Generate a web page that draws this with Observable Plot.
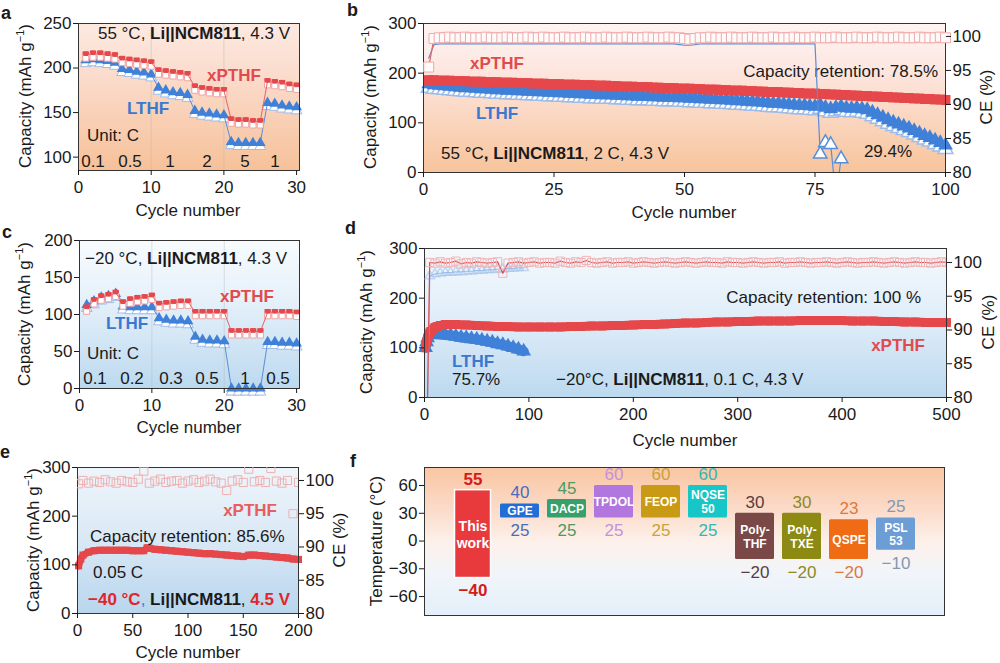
<!DOCTYPE html>
<html>
<head>
<meta charset="utf-8">
<script src="https://cdn.jsdelivr.net/npm/d3@7"></script>
<script src="https://cdn.jsdelivr.net/npm/@observablehq/plot@0.6"></script>
<style>
  body { margin: 0; background: #fff; }
  #fig { position: relative; width: 1000px; height: 663px; overflow: hidden; font-family: "Liberation Sans", Arial, Helvetica, sans-serif; color: #1a1a1a; }
  .panel { position: absolute; }
  .panel svg { position: absolute; left: 0; top: 0; overflow: visible; }
  .tag { position: absolute; font-weight: bold; font-size: 18px; line-height: 18px; }
</style>
</head>
<body>
<div id="fig"></div>
<script>
// ---------- data ----------
// a: rate capability, 55 °C
const cycA = d3.range(1, 31);
const capA_xPTHF = [215,216,216,215,214, 210,209,208,207,206, 197,196,195,194,193, 179,177,176,175,175, 142,141,141,140,140, 185,184,183,181,180];
const capA_LTHF  = [209,210,209,208,206, 199,198,196,195,193, 178,175,173,172,170, 152,150,149,148,147, 117,116,116,116,116, 161,160,158,157,156];
const ratesA = ["0.1", "0.5", "1", "2", "5", "1"];

// b: cycling at 55 °C, 2 C
const cycB = d3.range(1, 101);
const capB_xPTHF = [186,186,185,185,185,184,184,184,183,183, 183,182,182,182,181,181,181,180,180,180,
  179,179,179,178,178,178,177,177,177,176, 176,176,175,175,175,174,174,173,173,173,
  172,172,172,171,171,170,170,170,169,169, 169,168,168,167,167,167,166,166,165,165,
  165,164,164,163,163,162,162,162,161,161, 160,160,159,159,159,158,158,157,157,156,
  156,155,155,154,154,153,153,152,152,151, 151,150,150,149,149,148,148,147,147,146];
const capB_LTHF = [178,176,175,174,173,172,171,170,170,169, 168,168,167,166,166,165,165,164,164,163,
  163,162,162,161,161,160,160,159,159,158, 158,157,157,156,156,156,155,155,154,154,
  153,153,153,152,152,151,151,151,150,150, 149,149,148,148,147,147,146,146,145,144,
  144,143,142,142,141,140,139,139,138,137, 136,135,135,134,133,136,131,128,131,133,
  130,129,130,128,126,121,116,111,106,101, 97,93,89,84,79,74,70,65,60,55];
const ceB_xPTHF = [95.5,99.7,99.8,99.8,99.9,99.8,99.8,99.9,99.8,99.8, 99.8,99.9,99.8,99.8,99.8,99.9,99.8,99.8,99.8,99.9,
  99.8,99.8,99.9,99.8,99.8,99.8,99.9,99.8,99.8,99.8, 99.9,99.8,99.8,99.8,99.9,99.8,99.8,99.8,99.9,99.8,
  99.8,99.8,99.9,99.8,99.8,99.8,99.9,99.8,99.8,99.7, 99.6,99.7,99.8,99.8,99.9,99.8,99.8,99.8,99.9,99.8,
  99.8,99.8,99.9,99.8,99.8,99.8,99.9,99.8,99.8,99.8, 99.9,99.8,99.8,99.8,99.9,99.8,99.8,99.8,99.9,99.8,
  99.8,99.8,99.9,99.8,99.8,99.8,99.9,99.8,99.8,99.8, 99.9,99.8,99.8,99.8,99.9,99.8,99.8,99.8,99.9,99.8];
const ceB_LTHF = [96.8,98.8,98.9,98.9,98.9,98.9,98.9,98.9,98.9,98.9, 98.9,98.9,98.9,98.9,98.9,98.9,98.9,98.9,98.9,98.9,
  98.9,98.9,98.9,98.9,98.9,98.9,98.9,98.9,98.9,98.9, 98.9,98.9,98.9,98.9,98.9,98.9,98.9,98.9,98.9,98.9,
  98.9,98.9,98.9,98.9,98.9,98.9,98.9,98.9,98.8,98.7, 98.7,98.8,98.9,98.9,98.9,98.9,98.9,98.9,98.9,98.9,
  98.9,98.9,98.9,98.9,98.9,98.9,98.9,98.9,98.9,98.9, 98.9,98.9,98.9,98.9,98.9,82.7,84.4,84.1,76.5,82.0];

// c: rate capability, −20 °C
const cycC = d3.range(1, 31);
const capC_xPTHF = [109,119,124,126,129, 116,120,122,123,125, 114,115,116,117,117, 103,103,103,103,103, 77,77,77,77,77, 103,103,103,103,102];
const capC_LTHF  = [113,118,123,125,128, 111,110,110,110,110, 95,93,92,92,91, 70,66,65,65,64, 0,0,0,0,0, 63,63,62,62,61];
const ratesC = ["0.1", "0.2", "0.3", "0.5", "1", "0.5"];

// d: cycling at −20 °C, 0.1 C
const cycD_xPTHF = [1,2,3,4,5,6,8,10,12,15, 20,30,40,50,60,70,80,90,100,110,120,130,140,150,160,170,180,190,200,
  210,220,230,240,250,260,270,280,290,300,310,320,330,340,350,360,370,380,390,400,410,420,430,440,450,460,470,480,490,500];
const capD_xPTHF = [100,112,120,126,130,133,138,141,143,145, 147,147,146,145,144,143,143,142,142,142,142,142,143,143,144,144,145,145,146,
  147,147,148,149,150,150,151,152,152,153,153,154,154,154,154,155,155,155,155,155,154,154,154,153,153,152,152,151,151,151];
const cycD_LTHF = [1,2,3,5,8,10,15,20,25,30,35,40,45,50,55,60,65,70,75,80,85,90,95];
const capD_LTHF = [100,112,120,126,128,128,127,126,125,123,121,120,118,117,115,113,111,108,106,103,100,97,93];
const ceCycD_xPTHF = [1, ...d3.range(5, 505, 5)];
const ceD_xPTHF = [62.0,
  100.0,99.9,100.1,99.9,100.0,100.2,99.8,100.0,99.9,100.1, 100.0,99.9,100.0,100.1,98.4,99.9,100.0,100.1,99.9,100.0,
  100.1,99.9,100.0,100.0,99.9,100.2,100.0,99.9,100.1,100.0, 100.3,100.0,99.9,100.0,100.1,99.9,100.0,100.0,100.1,99.9,
  100.0,100.1,100.0,99.9,100.0,100.1,100.0,99.9,100.0,100.1, 100.0,99.9,100.0,100.1,100.0,100.0,99.9,100.1,100.0,100.0,
  99.9,100.0,100.1,100.0,99.9,100.0,100.0,100.1,99.9,100.0, 100.0,100.1,100.0,99.9,100.0,100.0,100.1,100.0,99.9,100.0,
  100.1,100.0,99.9,100.0,100.0,100.1,100.0,99.9,100.0,100.1, 100.0,99.9,100.0,100.1,100.0,100.0,99.9,100.0,100.1,100.0];
const ceCycD_LTHF = [1,5,10,15,20,25,30,35,40,45,50,55,60,65,70,75,80,85,90,95];
const ceD_LTHF = [60,98.0,98.3,98.4,98.5,98.5,98.6,98.6,98.7,98.7,98.8,98.8,98.9,98.9,99.0,99.0,99.1,99.1,99.2,99.2];

// e: cycling at −40 °C, 0.05 C, 4.5 V
const cycE = [1,3,5,10,15,20,25,30,35,40,45,50,55,60,63,65,70,75,80,85,90,95,100,105,110,115,120,125,130,135,140,145,150,155,160,165,170,175,180,185,190,195,200];
const capE = [98,112,120,126,129,130,130,130,130,130,130,129,129,129,135,134,132,131,130,129,128,127,126,125,124,123,123,122,121,120,119,118,117,120,120,119,118,117,116,115,114,112,111];
const ceCycE = [1, ...d3.range(5, 205, 5)];
const ceE = [99.5,100.0,99.6,99.9,99.7,100.1,99.8,99.6,100.0,99.8,99.7,100.2,101.4,99.6,99.9,100.2,99.7,99.9,100.0,99.6,99.9,
  100.1,99.7,99.9,100.2,99.8,99.6,98.5,99.9,100.1,99.7,101.7,99.8,100.0,99.7,101.8,99.9,99.6,100.0,95.0,99.7];

// f: operating temperature windows
const electrolytes = ["This work","GPE","DACP","TPDOL","FEOP","NQSE 50","Poly-THF","Poly-TXE","QSPE","PSL 53"];
const barNames = ["This\nwork","GPE","DACP","TPDOL","FEOP","NQSE\n50","Poly-\nTHF","Poly-\nTXE","QSPE","PSL\n53"];
const tHigh = [55,40,45,60,60,60,30,30,23,25];
const tLow  = [-40,25,25,25,25,25,-20,-20,-20,-10];

// ---------- styling ----------
const FONT = "'Liberation Sans', Arial, Helvetica, sans-serif";
const RED = "#e5474b", RED_LINE = "#e06666", RED_OPEN = "#f0a3a3", RED_TXT = "#e04b4d";
const BLUE = "#3f80d8", BLUE_LINE = "#5a8ed8", BLUE_OPEN = "#9dbde9", BLUE_TXT = "#3a79d0";
const PINK = "#eeaaaa";
const barFill = ["#e8393d","#1f6fd6","#36a06c","#b277de","#c99a14","#17c6c6","#7b4848","#8c8a12","#f06c14","#6c9dd4"];
const numFill = ["#d41b1b","#4a6cba","#4d9a62","#c492dc","#c9a238","#33b7b2","#5a3c3c","#8a8a24","#e2773a","#8398b2"];

const panels = {
  a: {left: 0,   top: 0,   w: 320, h: 220, ml: 78,  mr: 21, mt: 23, mb: 50},
  b: {left: 320, top: 0,   w: 680, h: 220, ml: 103, mr: 55, mt: 23, mb: 48},
  c: {left: 0,   top: 215, w: 320, h: 220, ml: 79,  mr: 21, mt: 25, mb: 47},
  d: {left: 320, top: 215, w: 680, h: 220, ml: 104, mr: 54, mt: 33, mb: 38},
  e: {left: 0,   top: 430, w: 360, h: 233, ml: 77,  mr: 62, mt: 37, mb: 50},
  f: {left: 350, top: 430, w: 650, h: 233, ml: 74,  mr: 56, mt: 37, mb: 48}
};

const fig = document.getElementById("fig");

function opts(P) {
  return {
    width: P.w, height: P.h,
    marginLeft: P.ml, marginRight: P.mr, marginTop: P.mt, marginBottom: P.mb,
    style: {fontFamily: FONT, fontSize: "17px", color: "#1a1a1a", background: "transparent", overflow: "visible"}
  };
}

// gradient fill behind the plotting frame
function backdrop(id, stops) {
  return (index, scales, values, dim) => {
    const g = d3.create("svg:g");
    const grad = g.append("defs").append("linearGradient")
      .attr("id", id).attr("x1", 0).attr("y1", 0).attr("x2", 0).attr("y2", 1);
    for (const [o, c] of stops) grad.append("stop").attr("offset", o).attr("stop-color", c);
    g.append("rect")
      .attr("x", dim.marginLeft).attr("y", dim.marginTop)
      .attr("width", dim.width - dim.marginLeft - dim.marginRight)
      .attr("height", dim.height - dim.marginTop - dim.marginBottom)
      .attr("fill", `url(#${id})`);
    return g.node();
  };
}

// text with mixed runs (bold / coloured / superscript), placed in page pixels
function words(P, x, y, parts, o = {}) {
  return () => {
    const t = d3.create("svg:text")
      .attr("transform", `translate(${x - P.left},${y - P.top})` + (o.rotate ? ` rotate(${o.rotate})` : ""))
      .attr("text-anchor", o.anchor || "start")
      .attr("dy", "0.35em")
      .attr("font-size", o.size || 17)
      .attr("font-weight", o.bold ? "bold" : null)
      .attr("fill", o.fill || "#1a1a1a");
    for (const p of Array.isArray(parts) ? parts : [parts]) {
      const [s, st] = typeof p === "string" ? [p, {}] : p;
      const sp = t.append("tspan").text(s);
      if (st.bold) sp.attr("font-weight", "bold");
      if (st.fill) sp.attr("fill", st.fill);
      if (st.size) sp.attr("font-size", st.size);
      if (st.dy) sp.attr("dy", st.dy);
    }
    return t.node();
  };
}

const capTitle = ["Capacity (mAh g", ["\u22121", {size: 11, dy: -7}], [")", {dy: 7}]];

function mount(P, ...plots) {
  const div = document.createElement("div");
  div.className = "panel";
  Object.assign(div.style, {left: P.left + "px", top: P.top + "px", width: P.w + "px", height: P.h + "px"});
  for (const p of plots) div.appendChild(p);
  fig.appendChild(div);
}

function tag(letter, x, y) {
  const d = document.createElement("div");
  d.className = "tag";
  d.textContent = letter;
  d.style.left = x + "px";
  d.style.top = y + "px";
  fig.appendChild(d);
}

const xAxis = ticks => Plot.axisX({ticks, tickSize: 5, tickPadding: 5, label: null});
const yAxis = ticks => Plot.axisY({ticks, tickSize: 5, tickPadding: 2, label: null});
const ceAxis = () => Plot.axisY({anchor: "right", ticks: [80, 85, 90, 95, 100], tickSize: 5, tickPadding: 2, label: null});

// rate-capability panel (a, c)
function ratePanel(P, id, stops, cyc, xs, ls) {
  const rows = cyc.map((c, i) => ({c, x: xs[i], l: ls[i]}));
  return [
    backdrop(id, stops),
    Plot.ruleX([10, 20], {stroke: "#b8b8b8", strokeOpacity: 0.45, strokeWidth: 1}),
    Plot.dot(rows, {x: "c", y: "l", symbol: "triangle", r: 4, fill: "white", stroke: BLUE_OPEN, strokeWidth: 1, dy: 3.5}),
    Plot.line(rows, {x: "c", y: "l", stroke: BLUE_LINE, strokeWidth: 1}),
    Plot.dot(rows, {x: "c", y: "l", symbol: "triangle", r: 4, fill: BLUE}),
    Plot.dot(rows, {x: "c", y: "x", symbol: "square", r: 3.6, fill: RED}),
    Plot.dot(rows, {x: "c", y: "x", symbol: "square", r: 3.4, fill: "white", stroke: RED_OPEN, strokeWidth: 1, dy: 3.5}),
    Plot.line(rows, {x: "c", y: "x", stroke: RED_LINE, strokeWidth: 1}),
    Plot.dot(rows, {x: "c", y: "x", symbol: "square", r: 2.6, fill: RED, dy: -1}),
    Plot.frame({stroke: "#333"}),
    xAxis([0, 10, 20, 30])
  ];
}

// ---------- a ----------
{
  const P = panels.a;
  const xs = [93, 130, 170, 207, 245, 275];
  mount(P, Plot.plot({
    ...opts(P),
    x: {domain: [0, 30.4]}, y: {domain: [85, 250]},
    marks: [
      ...ratePanel(P, "bgA", [[0, "#fde9e1"], [0.35, "#fbdccd"], [1, "#f6c199"]], cycA, capA_xPTHF, capA_LTHF),
      yAxis([100, 150, 200, 250]),
      words(P, 290, 33, ["55 °C, ", ["Li||NCM811", {bold: true}], ", 4.3 V"], {anchor: "end"}),
      words(P, 207, 75, "xPTHF", {bold: true, fill: RED_TXT}),
      words(P, 127, 108, "LTHF", {bold: true, fill: BLUE_TXT}),
      words(P, 87, 135, "Unit: C"),
      ...ratesA.map((r, i) => words(P, xs[i], 161, r, {anchor: "middle"})),
      words(P, 188, 210, "Cycle number", {anchor: "middle"}),
      words(P, 25, 96, capTitle, {anchor: "middle", rotate: -90})
    ]
  }));
}

// ---------- b ----------
{
  const P = panels.b;
  const rows = cycB.map((c, i) => ({c, x: capB_xPTHF[i], l: capB_LTHF[i]}));
  const ceX = cycB.map((c, i) => ({c, v: ceB_xPTHF[i]}));
  const ceL = ceB_LTHF.map((v, i) => ({c: cycB[i], v}));
  const cap = Plot.plot({
    ...opts(P),
    x: {domain: [0, 100]}, y: {domain: [0, 300]},
    marks: [
      backdrop("bgB", [[0, "#fff4f3"], [0.3, "#fde7e1"], [1, "#f7c49c"]]),
      Plot.dot(rows, {x: "c", y: "l", symbol: "triangle", r: 5.5, fill: "white", stroke: BLUE_OPEN, dy: 4}),
      Plot.line(rows, {x: "c", y: "l", stroke: BLUE, strokeWidth: 1}),
      Plot.dot(rows, {x: "c", y: "l", symbol: "triangle", r: 5.5, fill: BLUE}),
      Plot.dot(rows, {x: "c", y: "x", symbol: "square", r: 5.6, fill: RED}),
      Plot.frame({stroke: "#333"}),
      xAxis([0, 25, 50, 75, 100]),
      yAxis([0, 100, 200, 300]),
      words(P, 497, 63, "xPTHF", {anchor: "middle", bold: true, fill: RED_TXT}),
      words(P, 497, 113, "LTHF", {anchor: "middle", bold: true, fill: BLUE_TXT}),
      words(P, 441, 153, ["55 °C", [", Li||NCM811", {bold: true}], ", 2 C, 4.3 V"]),
      words(P, 888, 151, "29.4%", {anchor: "middle"}),
      words(P, 938, 71, "Capacity retention: 78.5%", {anchor: "end"}),
      words(P, 684, 212, "Cycle number", {anchor: "middle"}),
      words(P, 370, 97, capTitle, {anchor: "middle", rotate: -90})
    ]
  });
  const ce = Plot.plot({
    ...opts(P),
    x: {domain: [0, 100], axis: null}, y: {domain: [80, 101.9]},
    marks: [
      Plot.line(ceL, {x: "c", y: "v", stroke: BLUE_LINE, strokeWidth: 1.2, clip: true}),
      Plot.dot(ceL, {filter: d => d.v < 95, x: "c", y: "v", symbol: "triangle", r: 5, fill: "white", stroke: BLUE_LINE, clip: true}),
      Plot.line(ceX, {x: "c", y: "v", stroke: RED_LINE, strokeWidth: 1.2}),
      Plot.dot(ceX, {x: "c", y: "v", symbol: "square", r: 5.6, fill: "#fffafa", stroke: PINK, strokeWidth: 1}),
      ceAxis(),
      words(P, 986, 97, "CE (%)", {anchor: "middle", rotate: -90})
    ]
  });
  mount(P, cap, ce);
}

// ---------- c ----------
{
  const P = panels.c;
  const xs = [95, 132, 171, 207, 245, 278];
  mount(P, Plot.plot({
    ...opts(P),
    x: {domain: [0, 30.4]}, y: {domain: [0, 200]},
    marks: [
      ...ratePanel(P, "bgC", [[0, "#f7fbfe"], [0.4, "#e6f1fa"], [1, "#bcd9ef"]], cycC, capC_xPTHF, capC_LTHF),
      yAxis([0, 50, 100, 150, 200]),
      words(P, 85, 258, ["\u221220 °C, ", ["Li||NCM811", {bold: true}], ", 4.3 V"]),
      words(P, 220, 296, "xPTHF", {bold: true, fill: RED_TXT}),
      words(P, 106, 323, "LTHF", {bold: true, fill: BLUE_TXT}),
      words(P, 87, 353, "Unit: C"),
      ...ratesC.map((r, i) => words(P, xs[i], 378, r, {anchor: "middle"})),
      words(P, 189, 427, "Cycle number", {anchor: "middle"}),
      words(P, 24, 314, capTitle, {anchor: "middle", rotate: -90})
    ]
  }));
}

// ---------- d ----------
{
  const P = panels.d;
  const rx = cycD_xPTHF.map((c, i) => ({c, v: capD_xPTHF[i]}));
  const rl = cycD_LTHF.map((c, i) => ({c, v: capD_LTHF[i]}));
  const ceX = ceCycD_xPTHF.map((c, i) => ({c, v: ceD_xPTHF[i]}));
  const ceL = ceCycD_LTHF.map((c, i) => ({c, v: ceD_LTHF[i]}));
  const cap = Plot.plot({
    ...opts(P),
    x: {domain: [0, 500]}, y: {domain: [0, 300]},
    marks: [
      backdrop("bgD", [[0, "#f4f9fd"], [0.45, "#e1eef9"], [1, "#bcd9ef"]]),
      Plot.line(rl, {x: "c", y: "v", stroke: BLUE, strokeWidth: 10}),
      Plot.dot(rl, {x: "c", y: "v", symbol: "triangle", r: 5.5, fill: BLUE}),
      Plot.line(rx, {x: "c", y: "v", stroke: RED, strokeWidth: 9}),
      Plot.dot(rx, {x: "c", y: "v", symbol: "square", r: 5, fill: RED}),
      Plot.frame({stroke: "#333"}),
      xAxis([0, 100, 200, 300, 400, 500]),
      yAxis([0, 100, 200, 300]),
      words(P, 921, 297, "Capacity retention: 100 %", {anchor: "end"}),
      words(P, 925, 345, "xPTHF", {anchor: "end", bold: true, fill: RED_TXT}),
      words(P, 452, 361, "LTHF", {bold: true, fill: BLUE_TXT}),
      words(P, 452, 379, "75.7%"),
      words(P, 556, 379, ["\u221220°C, ", ["Li||NCM811", {bold: true}], ", 0.1 C, 4.3 V"]),
      words(P, 685, 440, "Cycle number", {anchor: "middle"}),
      words(P, 366, 322, capTitle, {anchor: "middle", rotate: -90})
    ]
  });
  const ce = Plot.plot({
    ...opts(P),
    x: {domain: [0, 500], axis: null}, y: {domain: [80, 102.07]},
    marks: [
      Plot.line(ceL, {x: "c", y: "v", stroke: BLUE_OPEN, strokeWidth: 1.2, clip: true}),
      Plot.dot(ceL, {x: "c", y: "v", symbol: "triangle", r: 3.5, fill: "none", stroke: BLUE_OPEN, strokeOpacity: 0.55, clip: true}),
      Plot.line(ceX, {x: "c", y: "v", stroke: RED, strokeWidth: 1.2, clip: true}),
      Plot.dot(ceX, {x: "c", y: "v", symbol: "square", r: 4.6, fill: "none", stroke: "#f0b5b5", strokeWidth: 1, clip: true}),
      ceAxis(),
      words(P, 988, 322, "CE (%)", {anchor: "middle", rotate: -90})
    ]
  });
  mount(P, cap, ce);
}

// ---------- e ----------
{
  const P = panels.e;
  const rows = cycE.map((c, i) => ({c, v: capE[i]}));
  const ceRows = ceCycE.map((c, i) => ({c, v: ceE[i]}));
  const cap = Plot.plot({
    ...opts(P),
    x: {domain: [0, 200]}, y: {domain: [0, 300]},
    marks: [
      backdrop("bgE", [[0, "#eef5fb"], [0.45, "#dceaf6"], [1, "#b9d6ee"]]),
      Plot.line(rows, {x: "c", y: "v", stroke: RED, strokeWidth: 7}),
      Plot.dot(rows, {x: "c", y: "v", symbol: "square", r: 4, fill: RED}),
      Plot.frame({stroke: "#333"}),
      xAxis([0, 50, 100, 150, 200]),
      yAxis([0, 100, 200, 300]),
      words(P, 277, 510, "xPTHF", {anchor: "end", bold: true, fill: "#e85e5e"}),
      words(P, 90, 536, "Capacity retention: 85.6%"),
      words(P, 93, 572, "0.05 C"),
      words(P, 88, 599, [["\u221240 °C", {bold: true, fill: "#e0262b"}], [", ", {fill: "#3a79d0"}], ["Li||NCM811", {bold: true}], ", ", ["4.5 V", {bold: true, fill: "#e0262b"}]]),
      words(P, 188, 652, "Cycle number", {anchor: "middle"}),
      words(P, 33, 540, capTitle, {anchor: "middle", rotate: -90})
    ]
  });
  const ce = Plot.plot({
    ...opts(P),
    x: {domain: [0, 200], axis: null}, y: {domain: [80, 101.95]},
    marks: [
      Plot.dot(ceRows, {x: "c", y: "v", symbol: "square", r: 4.6, fill: "none", stroke: "#efb0b0", strokeWidth: 1, clip: true}),
      ceAxis(),
      words(P, 339, 540, "CE (%)", {anchor: "middle", rotate: -90})
    ]
  });
  mount(P, cap, ce);
}

// ---------- f ----------
{
  const P = panels.f;
  const rows = electrolytes.map((name, i) => ({i, name, label: barNames[i], hi: tHigh[i], lo: tLow[i]}));
  const fmt = d3.format("d");
  mount(P, Plot.plot({
    ...opts(P),
    x: {type: "band", domain: electrolytes, paddingInner: 0.174, paddingOuter: 0.595, axis: null},
    y: {domain: [-80.5, 79.5]},
    marks: [
      backdrop("bgF", [[0, "#f9c6a2"], [0.3, "#fbdccb"], [0.5, "#fdf0ea"], [0.72, "#f1f5fa"], [1, "#e3eff9"]]),
      Plot.barY(rows, {filter: d => d.i > 0, x: "name", y1: "lo", y2: "hi", fill: d => barFill[d.i], rx: 1.5}),
      Plot.barY(rows, {filter: d => d.i === 0, x: "name", y1: "lo", y2: "hi", fill: d => barFill[d.i], stroke: "white", strokeWidth: 1.5, insetLeft: 1.5, insetRight: 1.5}),
      Plot.text(rows, {filter: d => d.i > 0, x: "name", y: d => (d.lo + d.hi) / 2, text: "label", fill: "white", fontWeight: "bold", fontSize: 12, lineHeight: 1.15}),
      Plot.text(rows, {filter: d => d.i === 0, x: "name", y: d => (d.lo + d.hi) / 2, text: "label", fill: "white", fontWeight: "bold", fontSize: 14, lineHeight: 1.2}),
      Plot.text(rows, {filter: d => d.i > 0, x: "name", y: "hi", text: d => fmt(d.hi), fill: d => numFill[d.i], fontSize: 17, dy: -11}),
      Plot.text(rows, {filter: d => d.i > 0, x: "name", y: "lo", text: d => fmt(d.lo), fill: d => numFill[d.i], fontSize: 17, dy: 13}),
      Plot.text(rows, {filter: d => d.i === 0, x: "name", y: "hi", text: d => fmt(d.hi), fill: d => numFill[d.i], fontSize: 17, fontWeight: "bold", dy: -11}),
      Plot.text(rows, {filter: d => d.i === 0, x: "name", y: "lo", text: d => fmt(d.lo), fill: d => numFill[d.i], fontSize: 17, fontWeight: "bold", dy: 13}),
      Plot.frame({stroke: "#333"}),
      yAxis([-60, -30, 0, 30, 60]),
      words(P, 376, 541, "Temperature (°C)", {anchor: "middle", rotate: -90})
    ]
  }));
}

// panel letters
tag("a", 1, 4);
tag("b", 347, 1);
tag("c", 2, 223);
tag("d", 345, 219);
tag("e", 0, 443);
tag("f", 350, 452);
</script>
</body>
</html>
